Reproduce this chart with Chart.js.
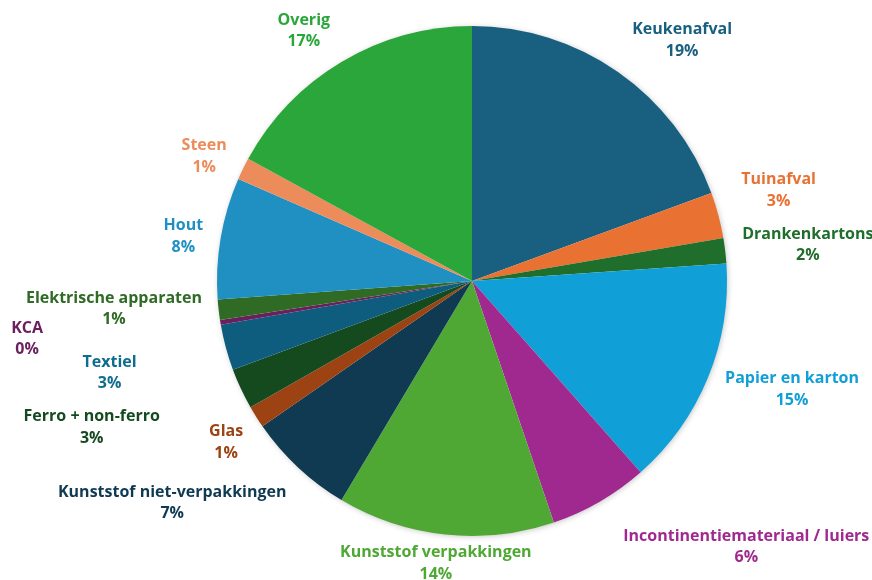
<!DOCTYPE html>
<html>
<head>
<meta charset="utf-8">
<script src="https://cdn.jsdelivr.net/npm/chart.js@4"></script>
<style>
  html, body { margin: 0; padding: 0; background: #fff; }
  #wrap { width: 872px; height: 580px; }
</style>
</head>
<body>
<div id="wrap"><canvas id="afvalChart" width="872" height="580"></canvas></div>
<script>
const categories = [
    'Keukenafval', 'Tuinafval', 'Drankenkartons', 'Papier en karton',
    'Incontinentiemateriaal / luiers', 'Kunststof verpakkingen',
    'Kunststof niet-verpakkingen', 'Glas', 'Ferro + non-ferro', 'Textiel',
    'KCA', 'Elektrische apparaten', 'Hout', 'Steen', 'Overig'
];
const shares = [19.4, 2.9, 1.6, 14.6, 6.3, 13.75, 6.8, 1.4, 2.6, 2.9, 0.3, 1.3, 7.7, 1.4, 17.05];

const sliceColors = [
    '#185f80', '#e97132', '#1f6e2c', '#109fd6', '#a0298f', '#4ea833',
    '#0f3a52', '#9c4213', '#154a1f', '#0e5d7e', '#6b1f5e', '#2f6b24',
    '#208fc2', '#ec8c5a', '#2aa63a'
];
const textColors = [
    '#185f80', '#e97132', '#1f6e2c', '#109fd6', '#a0298f', '#4ea833',
    '#0f3a52', '#9c4213', '#154a1f', '#0e6d8e', '#6b1f5e', '#2f6b24',
    '#208fc2', '#ec8c5a', '#2aa63a'
];

// nudges of each label away from its spot on 1.2 x radius (px)
const labelNudge = [
    [35, 10], [11, -12], [32, 0], [37, -8], [121, 1], [-4, -22], [-91, -2],
    [13, -2], [-103, 17], [-67, 12], [-143, 8], [-54, -7], [13, 7], [7, 10], [-12, 13]
];

const pieShadow = {
    id: 'pieShadow',
    beforeDatasetsDraw(chart) {
        const arc = chart.getDatasetMeta(0).data[0];
        if (!arc) return;
        const ctx = chart.ctx;
        ctx.save();
        ctx.shadowColor = 'rgba(0,0,0,0.28)';
        ctx.shadowBlur = 6;
        ctx.shadowOffsetX = 1;
        ctx.shadowOffsetY = 1;
        ctx.fillStyle = '#fff';
        ctx.beginPath();
        ctx.arc(arc.x, arc.y, arc.outerRadius - 1, 0, Math.PI * 2);
        ctx.fill();
        ctx.restore();
    }
};

const sliceLabels = {
    id: 'sliceLabels',
    afterDatasetsDraw(chart) {
        const ctx = chart.ctx;
        const meta = chart.getDatasetMeta(0);
        const total = shares.reduce((a, b) => a + b, 0);
        ctx.save();
        ctx.font = 'bold 16px "Open Sans"';
        ctx.textAlign = 'center';
        ctx.textBaseline = 'middle';
        meta.data.forEach((arc, i) => {
            const mid = (arc.startAngle + arc.endAngle) / 2;
            const r = arc.outerRadius * 1.2;
            const x = arc.x + Math.cos(mid) * r + labelNudge[i][0];
            const y = arc.y + Math.sin(mid) * r + labelNudge[i][1];
            ctx.fillStyle = textColors[i];
            ctx.fillText(categories[i], x, y - 10.5);
            ctx.fillText(Math.round(shares[i] / total * 100) + '%', x, y + 11);
        });
        ctx.restore();
    }
};

new Chart(document.getElementById('afvalChart'), {
    type: 'pie',
    data: {
        labels: categories,
        datasets: [{
            data: shares,
            backgroundColor: sliceColors,
            borderWidth: 0
        }]
    },
    options: {
        responsive: false,
        animation: false,
        layout: { padding: { top: 26, bottom: 44, left: 217, right: 145 } },
        plugins: { legend: { display: false }, tooltip: { enabled: false } }
    },
    plugins: [pieShadow, sliceLabels]
});
</script>
</body>
</html>
